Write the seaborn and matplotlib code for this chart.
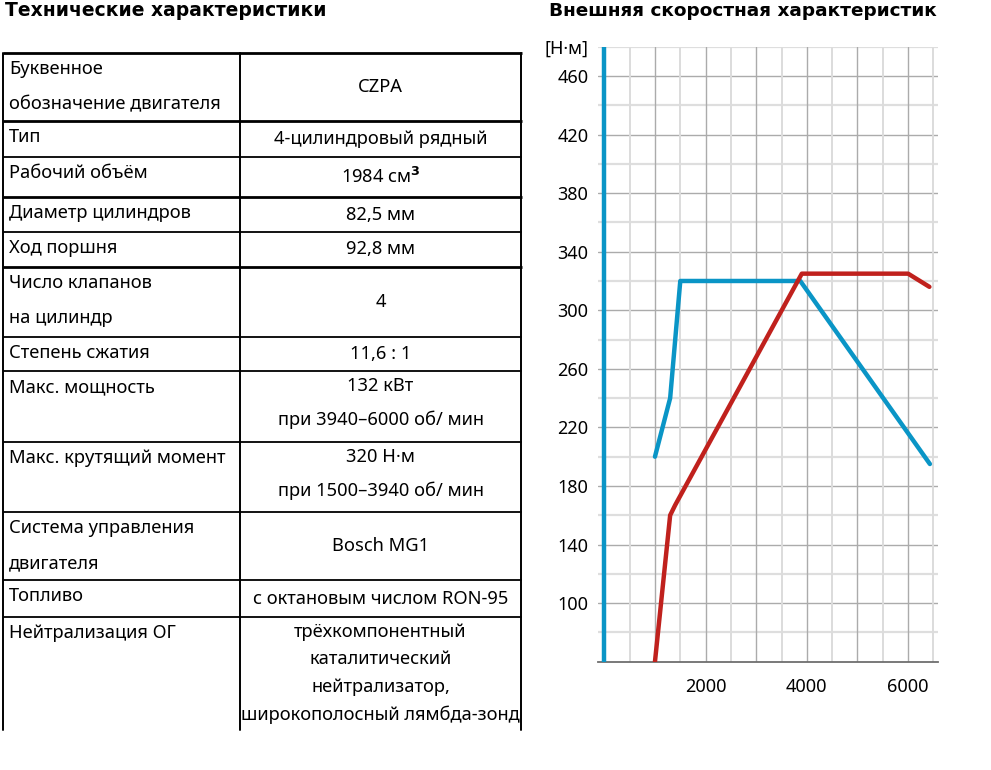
import matplotlib
matplotlib.use("Agg")
import matplotlib.pyplot as plt
import seaborn as sns
import pandas as pd

sns.set_style("white")
plt.rcParams["font.family"] = ["Noto Sans", "DejaVu Sans"]
plt.rcParams["text.color"] = "black"
plt.rcParams["xtick.color"] = "black"
plt.rcParams["ytick.color"] = "black"

# table data
left_title = "Технические характеристики"
right_title = "Внешняя скоростная характеристик"

row_names = [
    ["Буквенное", "обозначение двигателя"],
    ["Тип"],
    ["Рабочий объём"],
    ["Диаметр цилиндров"],
    ["Ход поршня"],
    ["Число клапанов", "на цилиндр"],
    ["Степень сжатия"],
    ["Макс. мощность"],
    ["Макс. крутящий момент"],
    ["Система управления", "двигателя"],
    ["Топливо"],
    ["Нейтрализация ОГ"],
]
row_values = [
    ["CZPA"],
    ["4-цилиндровый рядный"],
    [r"1984 см$^{\mathbf{3}}$"],
    ["82,5 мм"],
    ["92,8 мм"],
    ["4"],
    ["11,6 : 1"],
    ["132 кВт", "при 3940–6000 об/ мин"],
    ["320 Н·м", "при 1500–3940 об/ мин"],
    ["Bosch MG1"],
    ["с октановым числом RON-95"],
    ["трёхкомпонентный", "каталитический", "нейтрализатор,",
     "широкополосный лямбда-зонд"],
]

# chart data (rpm, N·m)
blue_rpm = [1000, 1300, 1500, 3870, 6430]
blue_val = [200, 240, 320, 320, 195]
red_rpm = [1000, 1300, 1400, 3900, 6000, 6420]
red_val = [60, 160, 167, 325, 325, 316]
ytick_vals = [100, 140, 180, 220, 260, 300, 340, 380, 420, 460, 480]
ytick_text = ["100", "140", "180", "220", "260", "300", "340", "380", "420", "460", "[Н·м]"]
xtick_vals = [2000, 4000, 6000]

W, H = 991, 770
fig = plt.figure(figsize=(W / 100, H / 100), dpi=100)

# ---- table drawn in pixel coordinates
tab = fig.add_axes([0, 0, 1, 1])
tab.set_xlim(0, W)
tab.set_ylim(H, 0)
tab.axis("off")

edges = [53, 121, 157, 197, 232, 267, 337, 371, 442, 512, 580, 617, 730]
thick = [53, 121, 197, 267]
x0, xmid, x1 = 3, 240, 521
for e in edges[:-1]:
    tab.plot([x0, x1 + 1], [e, e], color="black", lw=2.0 if e in thick else 1.3,
             solid_capstyle="butt")
for xv in [x0, xmid, x1]:
    tab.plot([xv, xv], [edges[0], edges[-1]], color="black", lw=1.4)

fs = 13.2
for i in range(len(row_names)):
    top, bot = edges[i], edges[i + 1]
    for k, line in enumerate(row_names[i]):
        tab.text(9, top + 16 + k * 35, line, fontsize=fs, va="center", ha="left")
    vals = row_values[i]
    if len(vals) == 1 and i != len(row_values) - 1:
        ys = [(top + bot) / 2]
    else:
        step = 27.5 if i == len(row_values) - 1 else 34
        ys = [top + 15 + k * step for k in range(len(vals))]
    for y, line in zip(ys, vals):
        tab.text((xmid + x1) / 2, y, line, fontsize=fs, va="center", ha="center")

tab.text(5, 16, left_title, fontsize=13.5, fontweight="bold", family="DejaVu Sans",
         va="baseline", ha="left")
tab.text(549, 16, right_title, fontsize=13.3, fontweight="bold", family="DejaVu Sans",
         va="baseline", ha="left")

# ---- chart
ax_l, ax_r, ax_t, ax_b = 598, 938, 46.7, 661.7
ax = fig.add_axes([ax_l / W, 1 - ax_b / H, (ax_r - ax_l) / W, (ax_b - ax_t) / H])
ax.set_xlim(-125, 6590)
ax.set_ylim(60, 480)

for y in range(80, 481, 20):
    major = (y - 100) % 40 == 0 and y <= 460
    ax.axhline(y, color="#ababab" if major else "#dedede", lw=1.0 if major else 1.6, zorder=0)
for x in range(500, 6501, 500):
    major = x % 1000 == 0
    ax.axvline(x, color="#ababab" if major else "#dcdcdc", lw=1.0 if major else 1.4, zorder=0)

for s in ax.spines.values():
    s.set_visible(False)
ax.spines["bottom"].set_visible(True)
ax.spines["bottom"].set_color("#6e6e6e")
ax.spines["bottom"].set_linewidth(1.3)

blue = "#0a95c6"
red = "#c0211d"
ax.axvline(0, color=blue, lw=3.2, zorder=3)

sns.lineplot(data=pd.DataFrame({"rpm": blue_rpm, "nm": blue_val}), x="rpm", y="nm",
             ax=ax, color=blue, lw=3.2, sort=False, zorder=3)
sns.lineplot(data=pd.DataFrame({"rpm": red_rpm, "nm": red_val}), x="rpm", y="nm",
             ax=ax, color=red, lw=3.2, sort=False, zorder=4)

ax.set_yticks(ytick_vals)
ax.set_yticklabels(ytick_text)
ax.set_xticks(xtick_vals)
ax.set_xticklabels([str(v) for v in xtick_vals])
ax.tick_params(axis="y", length=0, pad=7, labelsize=13, labelcolor="black")
ax.tick_params(axis="x", length=0, pad=12, labelsize=13, labelcolor="black")
ax.set_xlabel("")
ax.set_ylabel("")

fig.savefig("out.png", dpi=100)
